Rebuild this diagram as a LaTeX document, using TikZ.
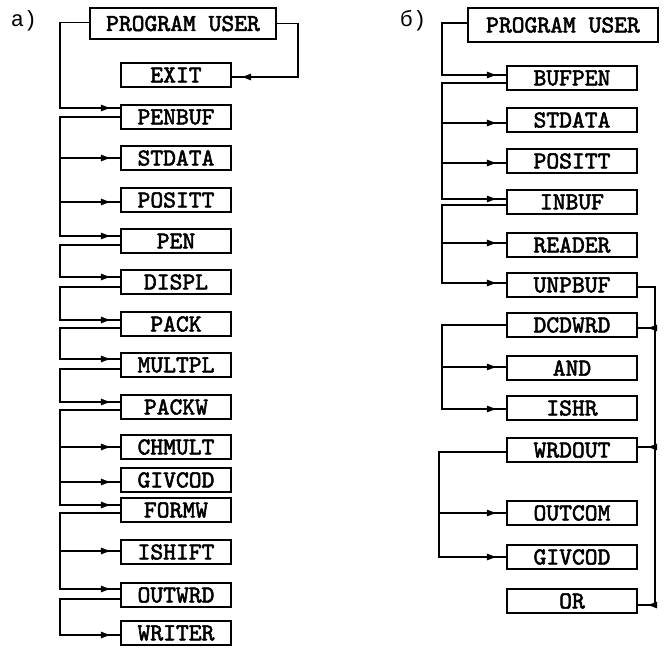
\documentclass[tikz,border=0pt]{standalone}
\usepackage{fontspec}
\usetikzlibrary{arrows.meta,calc,decorations.markings}
\newfontfamily\tagfont{Liberation Mono}
\newfontfamily\progfont{lmmono10-regular.otf}[FakeBold=2.2]

\begin{document}
\begin{tikzpicture}[x=0.5pt, y=-0.5pt,
    prog/.style={draw, line width=1.1pt, minimum height=12pt, inner sep=0pt,
      font=\progfont\fontsize{12.2}{13}\selectfont},
    progA/.style={prog, minimum width=55pt},
    progB/.style={prog, minimum width=65pt},
    call/.style={line width=0.9pt, postaction={decorate},
      decoration={markings, mark=at position -4pt with {\arrow{Latex[length=5.5pt,width=3.6pt]}}}},
    tag/.style={font=\tagfont\fontsize{11}{12}\selectfont}
]
\useasboundingbox (0,0) rectangle (665,649);

% panel labels
\node[tag] (tagA) at (24,21) {a)};
\node[tag] (tagB) at (413,21) {б)};

% buses
\coordinate (busA) at (60,0);
\coordinate (busE) at (298,0);
\coordinate (busB) at (442,0);
\coordinate (busC) at (439,0);
\coordinate (busR) at (655,0);

% Left column
\node[progA, minimum width=93pt, minimum height=15.5pt] (puA) at (183,23.5) {PROGRAM USER};
\foreach \name/\y/\txt in {exit/75/EXIT, penbuf/117/PENBUF, stdataA/158/STDATA,
    posittA/200/POSITT, pen/241/PEN, displ/282/DISPL, pack/324/PACK,
    multpl/365/MULTPL, packw/407/PACKW, chmult/447/CHMULT, givcodA/480/GIVCOD,
    formw/510/FORMW, ishift/552/ISHIFT, outwrd/595/OUTWRD, writer/633/WRITER} {
  \node[progA] (\name) at (176,\y) {\txt};
}

% Right column
\node[progB, minimum width=95pt, minimum height=17pt] (puB) at (563,25) {PROGRAM USER};
\foreach \name/\y/\txt in {bufpen/78/BUFPEN, stdataB/120/STDATA, posittB/161/POSITT,
    inbuf/202/INBUF, reader/245/READER, unpbuf/285/UNPBUF, dcdwrd/325/DCDWRD,
    andB/368/AND, ishr/408/ISHR, wrdout/450/WRDOUT, outcom/513/OUTCOM,
    givcodB/557/GIVCOD, orB/601/OR} {
  \node[progB] (\name) at (572,\y) {\txt};
}

% calls from the left side
\foreach \from/\oy/\to/\iy/\bus in {puA/-1/penbuf/-9/busA, penbuf/0/stdataA/0/busA,
    penbuf/0/posittA/2/busA, penbuf/0/pen/-5/busA, pen/4/displ/-5/busA,
    displ/5/pack/-4/busA, pack/4/multpl/-6/busA, multpl/4/packw/-5/busA,
    packw/3/chmult/0/busA, packw/3/givcodA/2/busA, packw/3/formw/-5/busA,
    formw/3/ishift/-1/busA, formw/3/outwrd/-6/busA, outwrd/4/writer/2/busA,
    puB/-2/bufpen/-3/busB, bufpen/5/stdataB/3/busB, bufpen/5/posittB/2/busB,
    bufpen/5/inbuf/-3/busB, inbuf/3/reader/-2/busB, inbuf/3/unpbuf/-2/busB,
    dcdwrd/0/andB/-1/busB, dcdwrd/0/ishr/1/busB,
    wrdout/2/outcom/0/busC, wrdout/2/givcodB/0/busC} {
  \draw[call] ($(\from.west)+(0,\oy)$) coordinate (s) -- (s -| \bus) |- ($(\to.west)+(0,\iy)$);
}

% calls from the right side
\foreach \from/\oy/\to/\iy/\bus in {puA/0/exit/2/busE, unpbuf/2/dcdwrd/3/busR,
    unpbuf/2/wrdout/-3/busR, unpbuf/2/orB/4/busR} {
  \draw[call] ($(\from.east)+(0,\oy)$) coordinate (s) -- (s -| \bus) |- ($(\to.east)+(0,\iy)$);
}

\end{tikzpicture}
\end{document}
